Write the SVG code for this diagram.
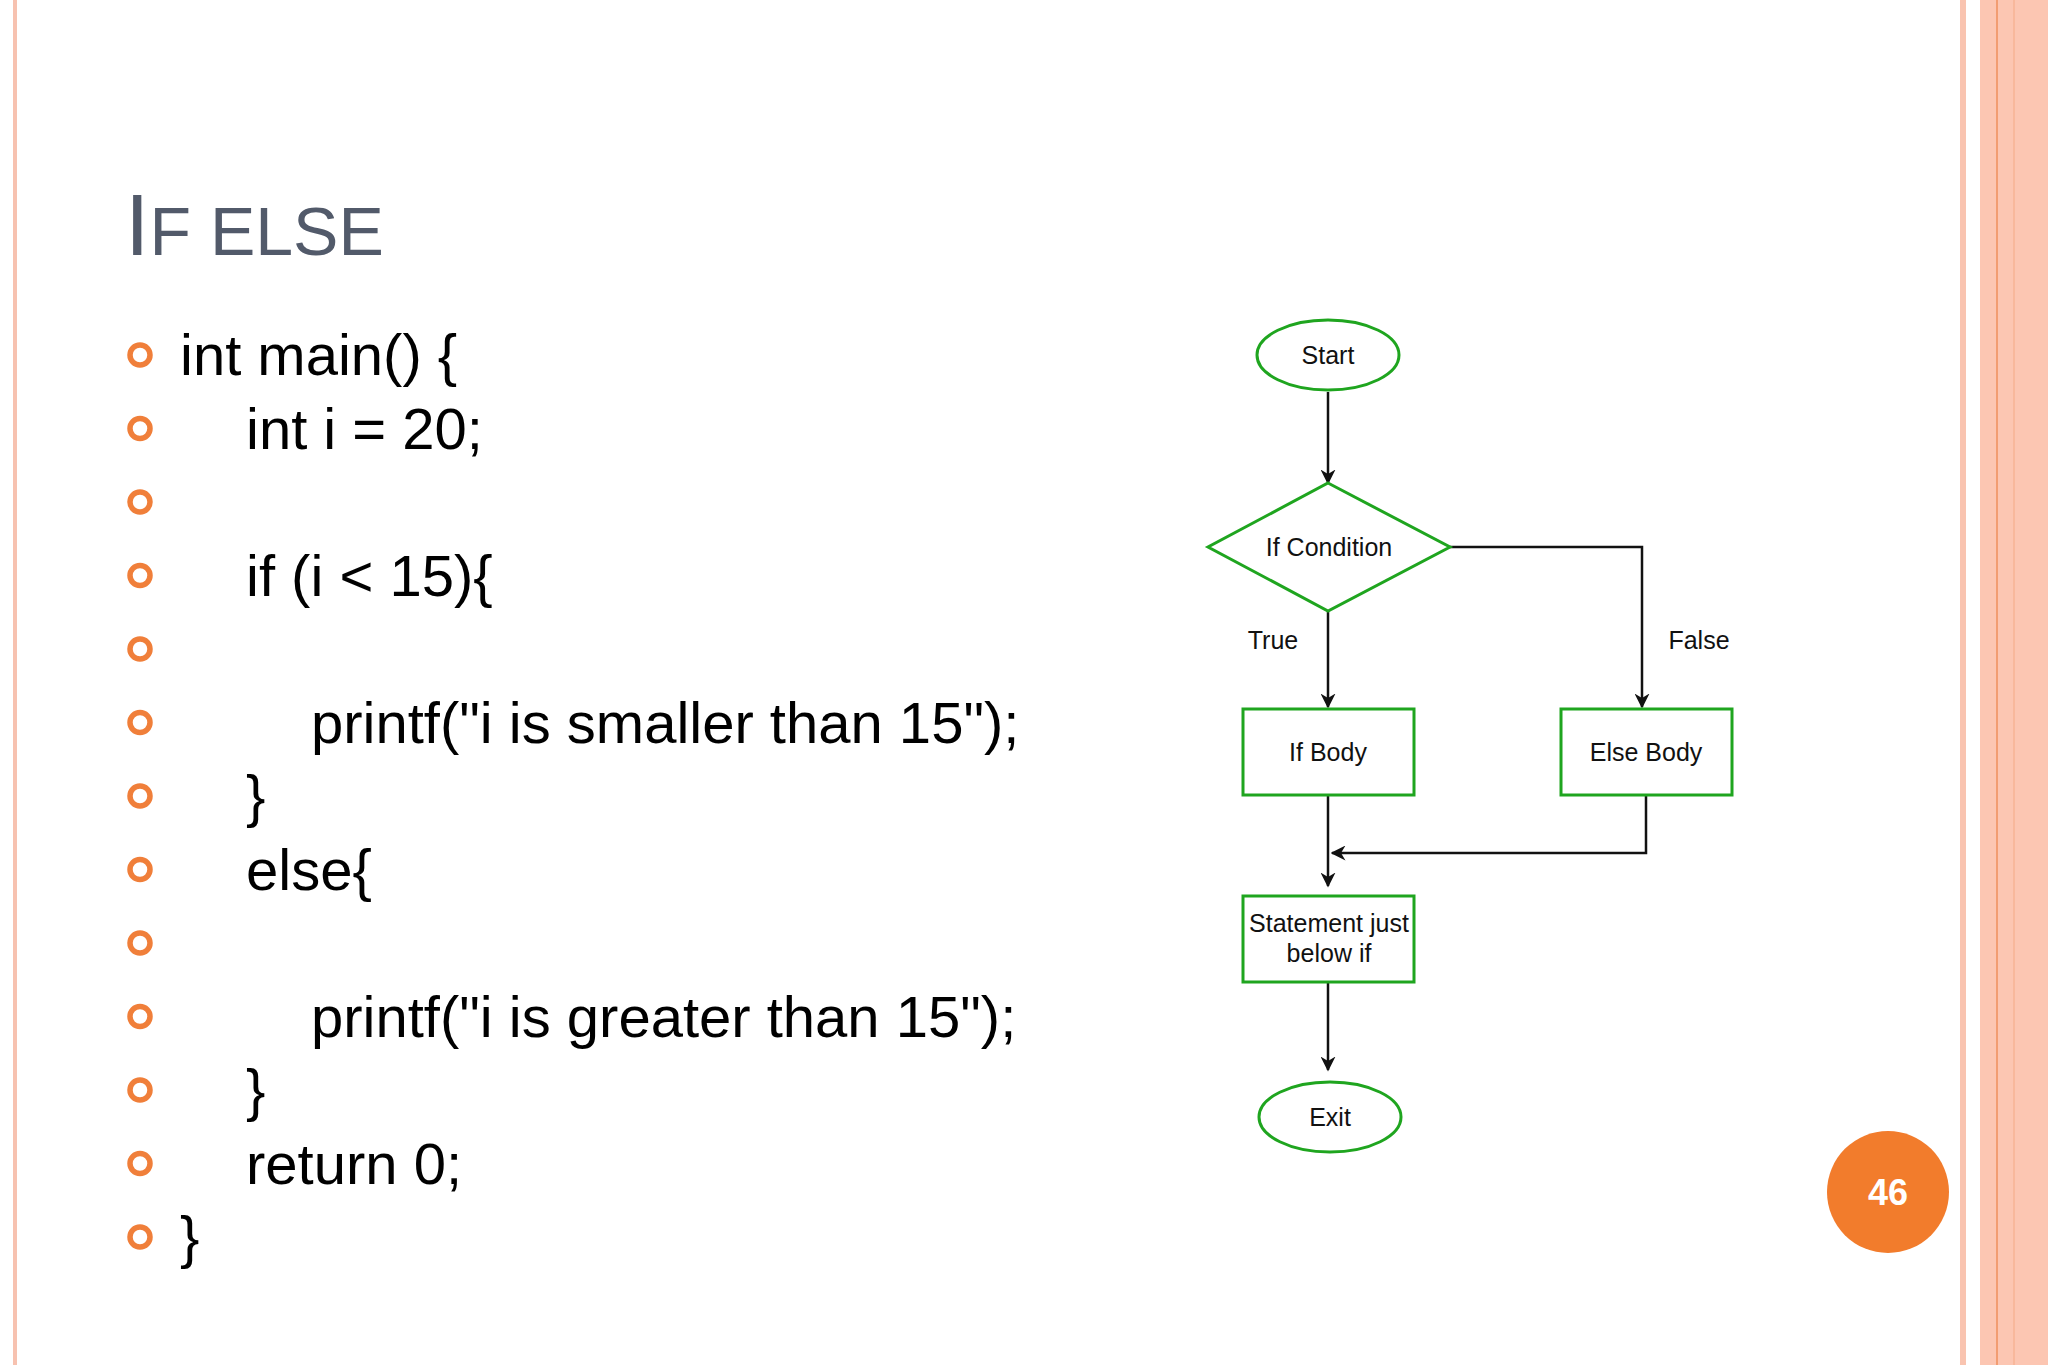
<svg xmlns="http://www.w3.org/2000/svg" width="2048" height="1365" viewBox="0 0 2048 1365">
<defs>
<style>
.code{font-family:"Liberation Sans",Arial,sans-serif;font-size:58px;fill:#000}
.bul{fill:none;stroke:#f07f3a;stroke-width:5.5}
.shape{fill:#fff;stroke:#1fa51f;stroke-width:3}
.lbl{font-family:"Liberation Sans",Arial,sans-serif;font-size:25px;fill:#111;text-anchor:middle}
.con{fill:none;stroke:#111;stroke-width:2.5}
</style>
<marker id="ah" viewBox="0 0 10 10" refX="9" refY="5" markerWidth="6" markerHeight="6" orient="auto"><path d="M0,0 L10,5 L0,10 L3,5 z" fill="#111"/></marker>
</defs>
<rect width="2048" height="1365" fill="#fff"/>
<rect x="13" y="0" width="4" height="1365" fill="#f7c2b0"/>
<rect x="1960" y="0" width="6" height="1365" fill="#f9c4b0"/>
<rect x="1980" y="0" width="68" height="1365" fill="#fcc6b2"/>
<rect x="1996" y="0" width="2" height="1365" fill="#f29d72"/>
<rect x="2013" y="0" width="2" height="1365" fill="#f8b89c"/>
<text x="125" y="255" font-family="'Liberation Sans',Arial,sans-serif" fill="#525a6a"><tspan font-size="88">I</tspan><tspan font-size="68">F ELSE</tspan></text>
<g id="bullets">
<circle class="bul" cx="140" cy="355" r="10"/><circle class="bul" cx="140" cy="428.5" r="10"/><circle class="bul" cx="140" cy="502" r="10"/><circle class="bul" cx="140" cy="575.5" r="10"/><circle class="bul" cx="140" cy="649" r="10"/><circle class="bul" cx="140" cy="722.5" r="10"/><circle class="bul" cx="140" cy="796" r="10"/><circle class="bul" cx="140" cy="869.5" r="10"/><circle class="bul" cx="140" cy="943" r="10"/><circle class="bul" cx="140" cy="1016.5" r="10"/><circle class="bul" cx="140" cy="1090" r="10"/><circle class="bul" cx="140" cy="1163.5" r="10"/><circle class="bul" cx="140" cy="1237" r="10"/>
</g>
<g id="code">
<text class="code" x="180" y="375">int main() {</text>
<text class="code" x="246" y="448.5">int i = 20;</text>
<text class="code" x="246" y="595.5">if (i &lt; 15){</text>
<text class="code" x="311" y="742.5">printf("i is smaller than 15");</text>
<text class="code" x="246" y="816">}</text>
<text class="code" x="246" y="889.5">else{</text>
<text class="code" x="311" y="1036.5">printf("i is greater than 15");</text>
<text class="code" x="246" y="1110">}</text>
<text class="code" x="246" y="1183.5">return 0;</text>
<text class="code" x="180" y="1257">}</text>
</g>
<g id="connectors">
<line class="con" x1="1328" y1="392" x2="1328" y2="483" marker-end="url(#ah)"/>
<line class="con" x1="1328" y1="611" x2="1328" y2="707" marker-end="url(#ah)"/>
<polyline class="con" points="1450,547 1642,547 1642,707" marker-end="url(#ah)"/>
<polyline class="con" points="1646,795 1646,853 1332,853" marker-end="url(#ah)"/>
<line class="con" x1="1328" y1="795" x2="1328" y2="886" marker-end="url(#ah)"/>
<line class="con" x1="1328" y1="982" x2="1328" y2="1070" marker-end="url(#ah)"/>
<text class="lbl" x="1273" y="649">True</text>
<text class="lbl" x="1699" y="649">False</text>
</g>
<g id="start"><ellipse class="shape" cx="1328" cy="355" rx="71" ry="35"/><text class="lbl" x="1328" y="364">Start</text></g>
<g id="cond"><polygon class="shape" points="1328,483 1450,547 1328,611 1208,547"/><text class="lbl" x="1329" y="556">If Condition</text></g>
<g id="ifbody"><rect class="shape" x="1243" y="709" width="171" height="86"/><text class="lbl" x="1328" y="761">If Body</text></g>
<g id="elsebody"><rect class="shape" x="1561" y="709" width="171" height="86"/><text class="lbl" x="1646" y="761">Else Body</text></g>
<g id="stmt"><rect class="shape" x="1243" y="896" width="171" height="86"/><text class="lbl" x="1329" y="932">Statement just</text><text class="lbl" x="1329" y="962">below if</text></g>
<g id="exit"><ellipse class="shape" cx="1330" cy="1117" rx="71" ry="35"/><text class="lbl" x="1330" y="1126">Exit</text></g>
<g id="page"><circle cx="1888" cy="1192" r="61" fill="#f27c2c"/><text x="1888" y="1205" text-anchor="middle" font-family="'Liberation Sans',Arial,sans-serif" font-weight="bold" font-size="36" fill="#fff">46</text></g>
</svg>
